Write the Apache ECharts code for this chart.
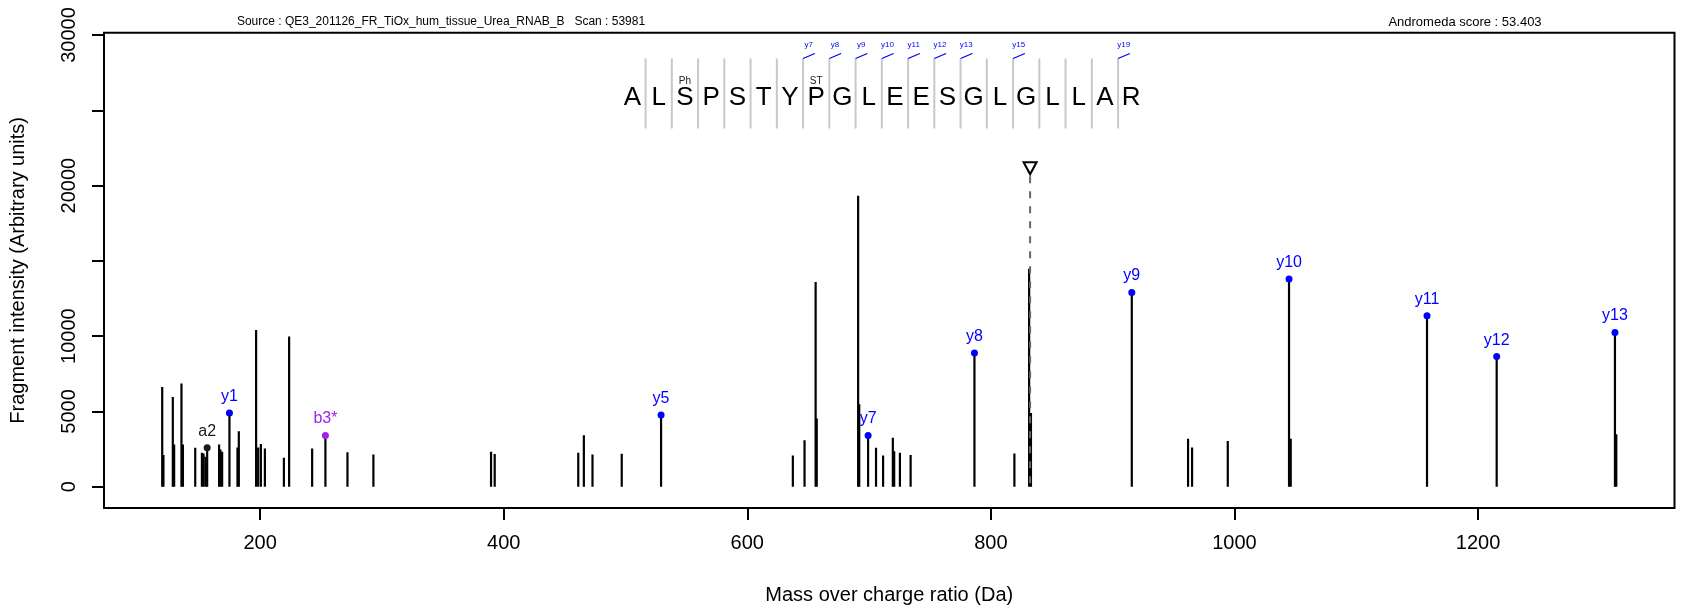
<!DOCTYPE html>
<html>
<head>
<meta charset="utf-8">
<script src="https://cdn.jsdelivr.net/npm/echarts@6/dist/echarts.min.js"></script>
<style>html,body{margin:0;padding:0;background:#fff}#c{width:1685px;height:611px}</style>
</head>
<body>
<div id="c"></div>
<script>
// ---------------- data ----------------
const peakMz  = [119.6,120.6,128.3,129.4,135.4,136.6,146.7,152.2,153.5,155.1,166.3,167.4,168.8,181.4,182.5,196.7,198.4,200.6,203.9,219.5,223.8,242.7,271.7,293.0,389.6,392.6,461.2,465.8,472.9,496.9,637.4,647.0,656.1,657.0,691.0,691.9,705.7,711.5,719.5,720.6,725.3,734.1,819.3,831.4,832.9,961.9,965.2,994.5,1046.2,1313.5];
const peakInt = [6630,2100,5960,2810,6850,2810,2590,2250,2210,1990,2810,2470,2320,2610,3690,10400,2610,2830,2540,1920,9970,2540,2280,2140,2320,2170,2250,3420,2140,2190,2080,3090,13600,4530,19330,5480,2590,2080,3250,2360,2250,2100,2210,14480,4900,3180,2610,3030,3180,3490];

const ionMz    = [156.5,174.8,253.6,529.2,699.2,786.5,915.7,1044.8,1158.1,1215.3,1312.4];
const ionInt   = [2590,4900,3400,4770,3400,8880,12900,13800,11360,8640,10250];
const ionLabel = ['a2','y1','b3*','y5','y7','y8','y9','y10','y11','y12','y13'];
const ionKind  = ['a','y','b','y','y','y','y','y','y','y','y'];

const sequence  = ['A','L','S','P','S','T','Y','P','G','L','E','E','S','G','L','G','L','L','A','R'];
const modLabels = ['','','Ph','','','','','ST','','','','','','','','','','','',''];
const yIonSites  = [7,8,9,10,11,12,13,15,19];
const yIonSiteLabels = ['y7','y8','y9','y10','y11','y12','y13','y15','y19'];

const precursorMz = 832.2;
const precursorMarkInt = 21150;

const xTickValues = [200,400,600,800,1000,1200];
const yTickValues = [0,5000,10000,15000,20000,25000,30000];
const yLabelValues = [0,5000,10000,20000,30000];

const headerLeft  = 'Source : QE3_201126_FR_TiOx_hum_tissue_Urea_RNAB_B   Scan : 53981';
const headerRight = 'Andromeda score : 53.403';

// ---------------- style ----------------
const FONT = '"Liberation Sans", Arial, Helvetica, sans-serif';
const kindColor = { y: '#0000FF', b: '#A020F0', a: '#1A1A1A' };
const SEQ = { letterY: 25850, modY: 26900, sepTop: 28440, sepBottom: 23790, ionLabelY: 29370 };

const chart = echarts.init(document.getElementById('c'), null, { renderer: 'canvas' });

const stemData = peakMz.map((m, i) => [m, peakInt[i]]).concat(ionMz.map((m, i) => [m, ionInt[i]]));

function renderStem(params, api) {
  const x = api.value(0), v = api.value(1);
  const p0 = api.coord([x, 0]);
  const p1 = api.coord([x, v]);
  return { type: 'line', shape: { x1: p0[0], y1: p0[1], x2: p1[0], y2: p1[1] },
           style: { stroke: '#000', lineWidth: 2.2, lineCap: 'butt' } };
}

function renderPrecursorLine(params, api) {
  const x = api.value(0), v = api.value(1);
  const p0 = api.coord([x, 0]);
  const p1 = api.coord([x, v]);
  return { type: 'line', shape: { x1: p1[0], y1: p1[1] + 8, x2: p0[0], y2: p0[1] },
           style: { stroke: '#666', lineWidth: 2, lineDash: [7, 8] } };
}

function renderSequence(params, api) {
  const i = params.dataIndex;
  const children = [];
  const pc = api.coord([i, SEQ.letterY]);
  children.push({ type: 'text', x: pc[0], y: pc[1],
    style: { text: sequence[i], font: '26px ' + FONT, fill: '#000', textAlign: 'center', textVerticalAlign: 'middle' } });
  if (modLabels[i]) {
    const pm = api.coord([i, SEQ.modY]);
    children.push({ type: 'text', x: pm[0], y: pm[1],
      style: { text: modLabels[i], font: '10px ' + FONT, fill: '#222', textAlign: 'center', textVerticalAlign: 'middle' } });
  }
  if (i < sequence.length - 1) {
    const st = api.coord([i + 0.5, SEQ.sepTop]);
    const sb = api.coord([i + 0.5, SEQ.sepBottom]);
    children.push({ type: 'line', shape: { x1: st[0], y1: st[1], x2: sb[0], y2: sb[1] },
      style: { stroke: '#C8C8C8', lineWidth: 2 } });
    const k = yIonSites.indexOf(i + 1);
    if (k >= 0) {
      children.push({ type: 'line', shape: { x1: st[0], y1: st[1], x2: st[0] + 11.8, y2: st[1] - 5 },
        style: { stroke: '#0000FF', lineWidth: 1.3 } });
      const pl = api.coord([i + 0.5, SEQ.ionLabelY]);
      children.push({ type: 'text', x: pl[0] + 5.7, y: pl[1],
        style: { text: yIonSiteLabels[k], font: '8px ' + FONT, fill: '#0000FF', textAlign: 'center', textVerticalAlign: 'middle' } });
    }
  }
  return { type: 'group', children };
}

const plainNum = v => String(v);

const option = {
  animation: false,
  backgroundColor: '#fff',
  textStyle: { fontFamily: FONT },
  grid: { left: 103.3, right: 10.5, top: 32.7, bottom: 103, show: true, borderColor: '#000', borderWidth: 2, backgroundColor: 'transparent' },
  xAxis: [
    { type: 'value', min: 71.8, max: 1361.3, position: 'bottom',
      name: 'Mass over charge ratio (Da)', nameLocation: 'middle', nameGap: 77,
      nameTextStyle: { fontSize: 20, color: '#000', fontFamily: FONT },
      axisLine: { show: false, onZero: false },
      axisTick: { show: true, length: 12, customValues: xTickValues, lineStyle: { color: '#000', width: 2 } },
      axisLabel: { show: true, customValues: xTickValues, formatter: plainNum, margin: 25, fontSize: 20, color: '#000', fontFamily: FONT },
      splitLine: { show: false } },
    { type: 'value', min: -20.133, max: 39.699, show: false, position: 'top' }
  ],
  yAxis: [
    { type: 'value', min: -1415, max: 30155, position: 'left',
      name: 'Fragment intensity (Arbitrary units)', nameLocation: 'middle', nameGap: 76, nameRotate: 90,
      nameTextStyle: { fontSize: 20, color: '#000', fontFamily: FONT },
      axisLine: { show: false, onZero: false },
      axisTick: { show: true, length: 12, customValues: yTickValues, lineStyle: { color: '#000', width: 2 } },
      axisLabel: { show: true, customValues: yLabelValues, formatter: plainNum, rotate: 90, margin: 25, fontSize: 20, color: '#000', fontFamily: FONT },
      splitLine: { show: false } }
  ],
  graphic: [
    { type: 'text', x: 441, y: 22, style: { text: headerLeft, font: '12px ' + FONT, fill: '#000', textAlign: 'center', textVerticalAlign: 'middle' } },
    { type: 'text', x: 1465, y: 22, style: { text: headerRight, font: '13px ' + FONT, fill: '#000', textAlign: 'center', textVerticalAlign: 'middle' } }
  ],
  series: [
    { type: 'custom', name: 'peaks', xAxisIndex: 0, yAxisIndex: 0, renderItem: renderStem, data: stemData, clip: true, silent: true },
    { type: 'custom', name: 'precursorLine', xAxisIndex: 0, yAxisIndex: 0, renderItem: renderPrecursorLine, data: [[precursorMz, precursorMarkInt]], silent: true },
    { type: 'scatter', name: 'precursor', xAxisIndex: 0, yAxisIndex: 0, symbol: 'triangle', symbolRotate: 180, symbolSize: [13, 12],
      itemStyle: { color: '#fff', borderColor: '#000', borderWidth: 2, opacity: 1 }, data: [[precursorMz, precursorMarkInt]], silent: true, z: 5 },
    { type: 'scatter', name: 'ions', xAxisIndex: 0, yAxisIndex: 0, symbol: 'circle', symbolSize: 7, z: 6, silent: true,
      data: ionMz.map((m, i) => ({
        value: [m, ionInt[i]],
        itemStyle: { color: kindColor[ionKind[i]], opacity: 1 },
        label: { show: true, position: 'top', distance: 5, formatter: ionLabel[i], color: kindColor[ionKind[i]], fontSize: 16, fontFamily: FONT }
      })) },
    { type: 'custom', name: 'sequence', xAxisIndex: 1, yAxisIndex: 0, renderItem: renderSequence,
      data: sequence.map((c, i) => [i, SEQ.letterY]), clip: false, silent: true, z: 4 }
  ]
};
chart.setOption(option);
</script>
</body>
</html>
